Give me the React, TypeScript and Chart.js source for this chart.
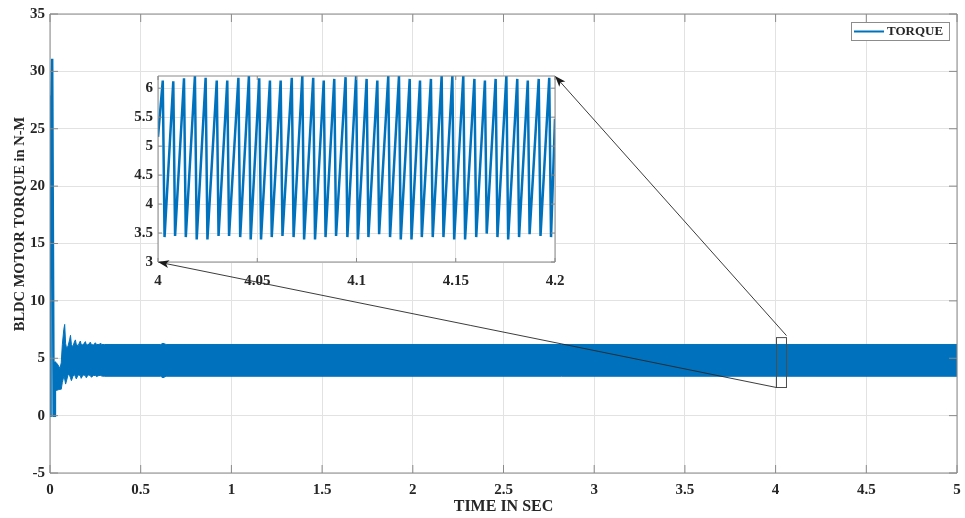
import { useEffect, useRef } from 'react';
import { Chart, registerables } from 'chart.js';

Chart.register(...registerables);

// ---- axis ticks ----
const timeTicks = [0, 0.5, 1, 1.5, 2, 2.5, 3, 3.5, 4, 4.5, 5];
const torqueTicks = [-5, 0, 5, 10, 15, 20, 25, 30, 35];
const detailTimeTicks = [4, 4.05, 4.1, 4.15, 4.2];
const detailTorqueTicks = [3, 3.5, 4, 4.5, 5, 5.5, 6];

// ---- start-up trace: inrush spike, short zero, first ripple (s, N-M) ----
const startTime = [0, 0.003, 0.007, 0.012, 0.02, 0.026, 0.027];
const startTorque = [0, 27.9, 26.8, 31.1, 0, 0, 4.7];

// ---- commutation ripple band: min / max envelope (s, N-M) ----
const bandTime = [
  0.027, 0.035, 0.045, 0.055, 0.062, 0.068, 0.076, 0.081, 0.086, 0.092,
  0.1, 0.108, 0.113, 0.118, 0.126, 0.134, 0.14, 0.145, 0.155, 0.167,
  0.172, 0.182, 0.195, 0.2, 0.21, 0.222, 0.228, 0.24, 0.25, 0.256,
  0.27, 0.28, 0.285, 0.3, 0.61, 0.623, 0.64, 5.0,
];
const bandUpper = [
  4.7, 4.6, 4.4, 4.1, 4.6, 6.2, 7.5, 7.95, 6.3, 5.8,
  6.1, 6.6, 7.0, 6.2, 6.0, 6.4, 6.6, 6.2, 6.1, 6.5,
  6.2, 6.15, 6.45, 6.2, 6.15, 6.4, 6.2, 6.15, 6.35, 6.2,
  6.2, 6.3, 6.2, 6.2, 6.2, 6.3, 6.2, 6.2,
];
const bandLower = [
  2.2, 2.2, 2.25, 2.3, 2.3, 2.9, 3.4, 3.2, 2.75, 3.1,
  3.6, 3.5, 3.3, 3.05, 3.4, 3.6, 3.4, 3.2, 3.55, 3.5,
  3.25, 3.55, 3.5, 3.3, 3.55, 3.5, 3.35, 3.5, 3.5, 3.4,
  3.5, 3.5, 3.45, 3.43, 3.43, 3.3, 3.43, 3.43,
];

// ---- detail window 4.0 - 4.2 s: ripple peaks and troughs ----
const detailTime = [
  4.0,
  4.0024, 4.0033, 4.0077, 4.0086, 4.0131, 4.014, 4.0186, 4.0195,
  4.024, 4.0249, 4.0296, 4.0305, 4.0349, 4.0358, 4.0405, 4.0414,
  4.0458, 4.0467, 4.051, 4.0519, 4.0564, 4.0573, 4.0618, 4.0627,
  4.0674, 4.0683, 4.0727, 4.0736, 4.0782, 4.0791, 4.0835, 4.0844,
  4.0888, 4.0897, 4.0945, 4.0954, 4.0998, 4.1007, 4.1051, 4.106,
  4.1105, 4.1114, 4.116, 4.1169, 4.1214, 4.1223, 4.1268, 4.1277,
  4.132, 4.1329, 4.1375, 4.1384, 4.1429, 4.1438, 4.1483, 4.1492,
  4.1538, 4.1547, 4.1594, 4.1603, 4.1647, 4.1656, 4.1701, 4.171,
  4.1755, 4.1764, 4.181, 4.1819, 4.1863, 4.1872, 4.1918, 4.1927,
  4.1971, 4.198,
  4.2,
];
const detailTorque = [
  5.16,
  6.13, 3.43, 6.12, 3.45, 6.17, 3.43, 6.21, 3.39,
  6.18, 3.39, 6.13, 3.45, 6.13, 3.45, 6.18, 3.43,
  6.21, 3.39, 6.17, 3.39, 6.13, 3.43, 6.13, 3.45,
  6.18, 3.43, 6.21, 3.39, 6.18, 3.39, 6.13, 3.43,
  6.16, 3.45, 6.19, 3.43, 6.21, 3.39, 6.16, 3.43,
  6.13, 3.48, 6.21, 3.43, 6.21, 3.39, 6.16, 3.39,
  6.13, 3.43, 6.16, 3.43, 6.21, 3.43, 6.21, 3.39,
  6.21, 3.39, 6.16, 3.43, 6.13, 3.49, 6.16, 3.43,
  6.21, 3.39, 6.16, 3.43, 6.13, 3.48, 6.16, 3.45,
  6.18, 3.43,
  5.47,
];

// ---- zoom window marked on the main axes ----
const zoomTime = [4.005, 4.06];
const zoomTorque = [2.45, 6.8];

// ---- styling ----
const FONT = '"Liberation Serif", "Times New Roman", Times, serif';
const TEXT = '#262626';
const GRID = '#e2e2e2';
const AXIS = '#8a8a8a';
const BLUE = '#0072BD';
const SERIES = 'TORQUE';

const pts = (xs: number[], ys: number[]) => xs.map((x, i) => ({ x, y: ys[i] }));

const plotBackground = {
  id: 'plotBackground',
  beforeDraw(chart: any) {
    const { ctx, chartArea: a } = chart;
    ctx.save();
    ctx.fillStyle = '#ffffff';
    ctx.fillRect(a.left, a.top, a.right - a.left, a.bottom - a.top);
    ctx.restore();
  },
};

// box around the axes with inward tick marks on all four sides
const axesBox = {
  id: 'axesBox',
  afterDatasetsDraw(chart: any, _args: any, opts: any) {
    const { ctx, chartArea: a, scales } = chart;
    const len = opts.tickLength ?? 8;
    ctx.save();
    ctx.strokeStyle = AXIS;
    ctx.lineWidth = 1;
    ctx.beginPath();
    ctx.rect(a.left, a.top, a.right - a.left, a.bottom - a.top);
    for (const t of scales.x.ticks) {
      const px = scales.x.getPixelForValue(t.value);
      ctx.moveTo(px, a.bottom);
      ctx.lineTo(px, a.bottom - len);
      ctx.moveTo(px, a.top);
      ctx.lineTo(px, a.top + len);
    }
    for (const t of scales.y.ticks) {
      const py = scales.y.getPixelForValue(t.value);
      ctx.moveTo(a.left, py);
      ctx.lineTo(a.left + len, py);
      ctx.moveTo(a.right, py);
      ctx.lineTo(a.right - len, py);
    }
    ctx.stroke();
    ctx.restore();
  },
};

// axis titles and legend of the main axes
const mainDecor = {
  id: 'mainDecor',
  afterDraw(chart: any) {
    const { ctx, chartArea: a } = chart;
    ctx.save();
    ctx.fillStyle = TEXT;
    ctx.textAlign = 'center';
    ctx.textBaseline = 'middle';
    ctx.font = `bold 16px ${FONT}`;
    ctx.fillText('TIME IN SEC', (a.left + a.right) / 2, a.bottom + 34);
    ctx.save();
    ctx.translate(20, 224);
    ctx.rotate(-Math.PI / 2);
    ctx.font = `bold 14.5px ${FONT}`;
    ctx.fillText('BLDC MOTOR TORQUE in N-M', 0, 0);
    ctx.restore();

    // legend
    const lx = a.right - 106;
    const ly = a.top + 8;
    const lw = 98;
    const lh = 18;
    ctx.fillStyle = '#ffffff';
    ctx.fillRect(lx, ly, lw, lh);
    ctx.strokeStyle = '#8c8c8c';
    ctx.lineWidth = 1;
    ctx.strokeRect(lx + 0.5, ly + 0.5, lw, lh);
    ctx.strokeStyle = BLUE;
    ctx.lineWidth = 2;
    ctx.beginPath();
    ctx.moveTo(lx + 3, ly + 9.5);
    ctx.lineTo(lx + 33, ly + 9.5);
    ctx.stroke();
    ctx.fillStyle = TEXT;
    ctx.textAlign = 'left';
    ctx.font = `bold 13px ${FONT}`;
    ctx.fillText(SERIES, lx + 36, ly + 10);
    ctx.restore();
  },
};

function arrow(ctx: CanvasRenderingContext2D, x0: number, y0: number, x1: number, y1: number) {
  const ang = Math.atan2(y1 - y0, x1 - x0);
  const c = Math.cos(ang);
  const s = Math.sin(ang);
  const L = 11;
  const W = 4;
  const bx = x1 - L * c;
  const by = y1 - L * s;
  ctx.beginPath();
  ctx.moveTo(x0, y0);
  ctx.lineTo(x1 - 6 * c, y1 - 6 * s);
  ctx.stroke();
  ctx.beginPath();
  ctx.moveTo(x1, y1);
  ctx.lineTo(bx + W * s, by - W * c);
  ctx.lineTo(x1 - 0.75 * L * c, y1 - 0.75 * L * s);
  ctx.lineTo(bx - W * s, by + W * c);
  ctx.closePath();
  ctx.fill();
}

const axisFont = { family: FONT, size: 15, weight: 'bold' as const };

// keep tick labels from widening the plot area
const fixX = (h: number) => (s: any) => {
  s.height = h;
  s.paddingLeft = 0;
  s.paddingRight = 0;
};
const fixY = (w: number) => (s: any) => {
  s.width = w;
  s.paddingTop = 0;
  s.paddingBottom = 0;
};

function mainConfig(): any {
  return {
    type: 'line',
    data: {
      datasets: [
        {
          label: SERIES,
          data: pts(startTime, startTorque),
          borderColor: BLUE,
          borderWidth: 2.5,
          fill: false,
        },
        {
          label: 'min',
          data: pts(bandTime, bandLower),
          borderColor: BLUE,
          borderWidth: 1,
          fill: false,
        },
        {
          label: 'max',
          data: pts(bandTime, bandUpper),
          borderColor: BLUE,
          borderWidth: 1,
          backgroundColor: BLUE,
          fill: '-1',
        },
      ],
    },
    options: {
      animation: false,
      responsive: false,
      devicePixelRatio: 1,
      events: [],
      layout: { padding: { top: 14, right: 8, left: 0, bottom: 0 } },
      elements: { point: { radius: 0 }, line: { tension: 0 } },
      plugins: {
        legend: { display: false },
        tooltip: { enabled: false },
        axesBox: { tickLength: 8 },
      },
      scales: {
        x: {
          type: 'linear',
          min: 0,
          max: 5,
          afterBuildTicks: (s: any) => {
            s.ticks = timeTicks.map((v) => ({ value: v }));
          },
          afterFit: fixX(45),
          grid: { color: GRID, drawTicks: false },
          border: { display: false },
          ticks: {
            padding: 8,
            color: TEXT,
            font: axisFont,
            maxRotation: 0,
            autoSkip: false,
            callback: (v: number) => String(v),
          },
        },
        y: {
          type: 'linear',
          min: -5,
          max: 35,
          afterBuildTicks: (s: any) => {
            s.ticks = torqueTicks.map((v) => ({ value: v }));
          },
          afterFit: fixY(50),
          grid: { color: GRID, drawTicks: false },
          border: { display: false },
          ticks: {
            padding: 5,
            color: TEXT,
            font: axisFont,
            autoSkip: false,
            callback: (v: number) => String(v),
          },
        },
      },
    },
    plugins: [plotBackground, axesBox, mainDecor],
  };
}

function detailConfig(getMain: () => any): any {
  // zoom window on the main axes and the two arrows leading to this inset
  const zoomLinks = {
    id: 'zoomLinks',
    afterDraw(chart: any) {
      const main = getMain();
      if (!main) return;
      const { ctx, chartArea: a } = chart;
      const mx = main.scales.x;
      const my = main.scales.y;
      const x0 = mx.getPixelForValue(zoomTime[0]);
      const x1 = mx.getPixelForValue(zoomTime[1]);
      const yTop = my.getPixelForValue(zoomTorque[1]);
      const yBot = my.getPixelForValue(zoomTorque[0]);
      ctx.save();
      ctx.strokeStyle = '#4d4d4d';
      ctx.lineWidth = 1;
      ctx.strokeRect(x0, yTop, x1 - x0, yBot - yTop);
      ctx.strokeStyle = '#262626';
      ctx.fillStyle = '#1a1a1a';
      ctx.lineWidth = 0.9;
      arrow(ctx, x1, yTop - 2, a.right, a.top);
      arrow(ctx, x0, yBot, a.left, a.bottom);
      ctx.restore();
    },
  };
  return {
    type: 'line',
    data: {
      datasets: [
        {
          label: SERIES,
          data: pts(detailTime, detailTorque),
          borderColor: BLUE,
          borderWidth: 2.5,
          fill: false,
        },
      ],
    },
    options: {
      animation: false,
      responsive: false,
      devicePixelRatio: 1,
      events: [],
      layout: { padding: { top: 76, right: 410, left: 118, bottom: 222 } },
      elements: { point: { radius: 0 }, line: { tension: 0 } },
      plugins: {
        legend: { display: false },
        tooltip: { enabled: false },
        axesBox: { tickLength: 4 },
      },
      scales: {
        x: {
          type: 'linear',
          min: 4,
          max: 4.2,
          afterBuildTicks: (s: any) => {
            s.ticks = detailTimeTicks.map((v) => ({ value: v }));
          },
          afterFit: fixX(34),
          grid: { color: GRID, drawTicks: false },
          border: { display: false },
          ticks: {
            padding: 10,
            color: TEXT,
            font: axisFont,
            maxRotation: 0,
            autoSkip: false,
            callback: (v: number) => String(v),
          },
        },
        y: {
          type: 'linear',
          min: 3,
          max: 6.21,
          afterBuildTicks: (s: any) => {
            s.ticks = detailTorqueTicks.map((v) => ({ value: v }));
          },
          afterFit: fixY(40),
          grid: { color: GRID, drawTicks: false },
          border: { display: false },
          ticks: {
            padding: 5,
            color: TEXT,
            font: axisFont,
            autoSkip: false,
            callback: (v: number) => String(v),
          },
        },
      },
    },
    plugins: [plotBackground, axesBox, zoomLinks],
  };
}

export default function App() {
  const mainRef = useRef<HTMLCanvasElement>(null);
  const detailRef = useRef<HTMLCanvasElement>(null);

  useEffect(() => {
    const main = new Chart(mainRef.current!, mainConfig());
    const detail = new Chart(detailRef.current!, detailConfig(() => main));
    return () => {
      detail.destroy();
      main.destroy();
    };
  }, []);

  const canvasStyle = { position: 'absolute' as const, left: 0, top: 0, width: 965, height: 518 };
  return (
    <div style={{ position: 'absolute', left: 0, top: 0, width: 965, height: 518, background: '#ffffff' }}>
      <canvas ref={mainRef} width={965} height={518} style={canvasStyle} />
      <canvas ref={detailRef} width={965} height={518} style={canvasStyle} />
    </div>
  );
}
